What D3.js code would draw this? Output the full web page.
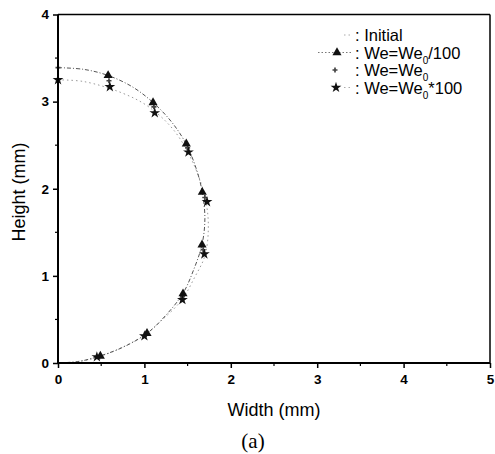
<!DOCTYPE html>
<html>
<head>
<meta charset="utf-8">
<script src="https://cdn.jsdelivr.net/npm/d3@7"></script>
<style>
  html, body { margin: 0; padding: 0; background: #fff; }
  svg { display: block; }
</style>
</head>
<body>
<script>
// Drop profile (width vs height, mm) for several Weber numbers
const xTicks = [0, 1, 2, 3, 4, 5];
const yTicks = [0, 1, 2, 3, 4];

const initialProfile = [
  [0, 3.25], [0.3, 3.23], [0.74, 3.1], [1.05, 2.94], [1.35, 2.66], [1.58, 2.26],
  [1.71, 1.86], [1.74, 1.55], [1.7, 1.23], [1.58, 0.98], [1.43, 0.72], [1.2, 0.49],
  [1.0, 0.32], [0.7, 0.16], [0.47, 0.07], [0.2, 0.01], [0, 0]
];
const weLowLine = [
  [0, 3.39], [0.3, 3.37], [0.58, 3.3], [0.86, 3.17], [1.1, 2.99], [1.32, 2.76],
  [1.485, 2.51], [1.6, 2.23], [1.67, 1.96], [1.7, 1.66], [1.667, 1.36], [1.57, 1.07],
  [1.447, 0.8], [1.25, 0.55], [1.03, 0.34], [0.75, 0.18], [0.47, 0.076], [0.25, 0.02], [0, 0]
];
const weLowPts = [
  [0.58, 3.3], [1.1, 2.99], [1.485, 2.515], [1.67, 1.96], [1.667, 1.357],
  [1.447, 0.795], [1.03, 0.34], [0.49, 0.08]
];
const weMidPts = [
  [0, 3.39], [0.59, 3.24], [1.11, 2.94], [1.5, 2.47], [1.7, 1.9], [1.68, 1.3],
  [1.44, 0.76], [1.02, 0.33], [0.48, 0.07]
];
const weHighPts = [
  [0, 3.25], [0.6, 3.17], [1.12, 2.87], [1.51, 2.42], [1.725, 1.85], [1.694, 1.25],
  [1.44, 0.726], [1.0, 0.31], [0.45, 0.07]
];

const legendItems = [
  { label: "Initial", sub: null, tail: "", kind: "initial" },
  { label: "We=We", sub: "0", tail: "/100", kind: "low" },
  { label: "We=We", sub: "0", tail: "", kind: "mid" },
  { label: "We=We", sub: "0", tail: "*100", kind: "high" }
];

const FONT = "'Liberation Sans', Arial, sans-serif";
const W = 495, H = 454;
const margin = { left: 58, right: 5, top: 14.5, bottom: 91 };
const svg = d3.select("body").append("svg").attr("width", W).attr("height", H);

const x = d3.scaleLinear().domain([0, 5]).range([margin.left, W - margin.right]);
const y = d3.scaleLinear().domain([0, 4]).range([H - margin.bottom, margin.top]);

// Curves
const line = d3.line().x(d => x(d[0])).y(d => y(d[1])).curve(d3.curveCatmullRom.alpha(0.5));

svg.append("path").datum(initialProfile).attr("d", line)
  .attr("fill", "none").attr("stroke", "#9a9a9a").attr("stroke-width", 1)
  .attr("stroke-dasharray", "1.5,3");
svg.append("path").datum(weLowLine).attr("d", line)
  .attr("fill", "none").attr("stroke", "#555").attr("stroke-width", 1)
  .attr("stroke-dasharray", "4,2,1,2");

// Markers
const tri = d3.symbol().type(d3.symbolTriangle).size(36);
const star = d3.symbol().type(d3.symbolStar).size(36);
const plus = d3.symbol().type(d3.symbolCross).size(14);

svg.append("g").selectAll("path").data(weMidPts).join("path")
  .attr("d", plus).attr("transform", d => `translate(${x(d[0])},${y(d[1])})`)
  .attr("fill", "#444");
svg.append("g").selectAll("path").data(weLowPts).join("path")
  .attr("d", tri).attr("transform", d => `translate(${x(d[0])},${y(d[1])})`)
  .attr("fill", "#111");
svg.append("g").selectAll("path").data(weHighPts).join("path")
  .attr("d", star).attr("transform", d => `translate(${x(d[0])},${y(d[1])})`)
  .attr("fill", "#111");

// Axes
const xAxis = d3.axisBottom(x).tickValues(xTicks).tickSize(5).tickPadding(6).tickFormat(d3.format("d"));
const yAxis = d3.axisLeft(y).tickValues(yTicks).tickSize(5).tickPadding(4).tickFormat(d3.format("d"));

const gx = svg.append("g").attr("transform", `translate(0,${y(0)})`).call(xAxis);
const gy = svg.append("g").attr("transform", `translate(${x(0)},0)`).call(yAxis);
[gx, gy].forEach(g => {
  g.select(".domain").remove();
  g.selectAll(".tick line").attr("stroke", "#000").attr("stroke-width", 1.5);
  g.selectAll(".tick text").attr("font-size", 13.5).attr("font-weight", "bold")
    .attr("font-family", FONT).attr("fill", "#000");
});

// Minor ticks
const minorX = d3.range(0.5, 5, 1);
const minorY = d3.range(0.5, 4, 1);
svg.append("g").selectAll("line").data(minorX).join("line")
  .attr("x1", d => x(d)).attr("x2", d => x(d)).attr("y1", y(0)).attr("y2", y(0) + 3)
  .attr("stroke", "#000").attr("stroke-width", 1.2);
svg.append("g").selectAll("line").data(minorY).join("line")
  .attr("x1", x(0)).attr("x2", x(0) - 3).attr("y1", d => y(d)).attr("y2", d => y(d))
  .attr("stroke", "#000").attr("stroke-width", 1.2);

// Frame
svg.append("line").attr("x1", x(0)).attr("x2", x(5)).attr("y1", y(4)).attr("y2", y(4))
  .attr("stroke", "#000").attr("stroke-width", 1.5);
svg.append("line").attr("x1", x(5)).attr("x2", x(5)).attr("y1", y(4)).attr("y2", y(0))
  .attr("stroke", "#000").attr("stroke-width", 1.5);
svg.append("line").attr("x1", x(0)).attr("x2", x(5)).attr("y1", y(0)).attr("y2", y(0))
  .attr("stroke", "#000").attr("stroke-width", 2);
svg.append("line").attr("x1", x(0)).attr("x2", x(0)).attr("y1", y(4)).attr("y2", y(0))
  .attr("stroke", "#000").attr("stroke-width", 2);

// Axis titles
svg.append("text").attr("x", 274).attr("y", 416).attr("text-anchor", "middle")
  .attr("font-size", 18).attr("font-family", FONT).text("Width (mm)");
svg.append("text").attr("transform", "translate(25,192) rotate(-90)").attr("text-anchor", "middle")
  .attr("font-size", 18).attr("font-family", FONT).text("Height (mm)");
svg.append("text").attr("x", 253).attr("y", 448).attr("text-anchor", "middle")
  .attr("font-size", 21).attr("font-family", "'Liberation Serif', 'Times New Roman', serif")
  .text("(a)");

// Legend
const legend = svg.append("g");
const rowY = i => 35 + i * 17.5;
legendItems.forEach((it, i) => {
  const cy = rowY(i);
  const g = legend.append("g");
  if (it.kind === "initial") {
    g.append("line").attr("x1", 344).attr("x2", 352).attr("y1", cy).attr("y2", cy)
      .attr("stroke", "#aaa").attr("stroke-dasharray", "1.5,3");
  } else if (it.kind === "low") {
    g.append("line").attr("x1", 318).attr("x2", 352).attr("y1", cy).attr("y2", cy)
      .attr("stroke", "#777").attr("stroke-dasharray", "1.5,2");
    g.append("path").attr("d", tri).attr("transform", `translate(337,${cy})`).attr("fill", "#111");
  } else if (it.kind === "mid") {
    g.append("path").attr("d", plus).attr("transform", `translate(335,${cy})`).attr("fill", "#444");
  } else {
    g.append("line").attr("x1", 344).attr("x2", 352).attr("y1", cy).attr("y2", cy)
      .attr("stroke", "#aaa").attr("stroke-dasharray", "1.5,3");
    g.append("path").attr("d", star).attr("transform", `translate(336,${cy})`).attr("fill", "#111");
  }
  const t = g.append("text").attr("x", 355).attr("y", cy + 6)
    .attr("font-size", 16.5).attr("font-family", FONT);
  t.append("tspan").text(": " + it.label);
  if (it.sub) {
    t.append("tspan").attr("dy", 5).attr("font-size", 10).text(it.sub);
    t.append("tspan").attr("dy", -5).text(it.tail);
  }
});
</script>
</body>
</html>
